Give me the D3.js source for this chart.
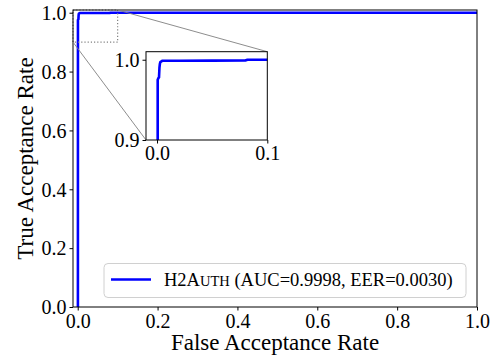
<!DOCTYPE html>
<html lang="en">
<head>
  <meta charset="UTF-8" />
  <title>ROC H2Auth</title>
  <style>
    html, body { margin: 0; padding: 0; background: #fff; }
    svg { display: block; }
    svg text { font-family: "Liberation Serif", "DejaVu Serif", serif; fill: #000; }
  </style>
</head>
<body>
<script src="https://d3js.org/d3.v7.min.js"></script>
<script>
// ROC curve points (false acceptance rate vs true acceptance rate)
const far = [0, 0.0005, 0.0006, 0.0012, 0.0018, 0.0022, 0.0026, 0.003, 0.005, 0.02, 0.05, 0.08, 0.082, 0.1, 0.2, 0.4, 0.6, 0.8, 1.0];
const tar = [0, 0, 0.975, 0.977, 0.978, 0.99, 0.995, 0.997, 0.9988, 0.9988, 0.9989, 0.999, 1.0, 1.0, 1.0, 1.0, 1.0, 1.0, 1.0];

const mainTicks = [0, 0.2, 0.4, 0.6, 0.8, 1.0];
const insetXTicks = [0, 0.1];
const insetYTicks = [0.9, 1.0];
const legendLabel = { pre: "H2A", caps: "UTH", post: " (AUC=0.9998, EER=0.0030)" };

const width = 503, height = 360;
const margin = { top: 10, right: 26, bottom: 53, left: 73 };
const tickFont = 20;

const svg = d3.select("body").append("svg")
  .attr("width", width)
  .attr("height", height);

const x = d3.scaleLinear().domain([-0.0118, 1.0]).range([margin.left, width - margin.right]);
const y = d3.scaleLinear().domain([0, 1.0092]).range([height - margin.bottom, margin.top]);

const pts = far.map((f, i) => [f, tar[i]]);

svg.append("clipPath").attr("id", "clipMain")
  .append("rect")
  .attr("x", margin.left).attr("y", margin.top)
  .attr("width", width - margin.left - margin.right)
  .attr("height", height - margin.top - margin.bottom);

// main curve
svg.append("path")
  .datum(pts)
  .attr("clip-path", "url(#clipMain)")
  .attr("fill", "none")
  .attr("stroke", "#0000ff")
  .attr("stroke-width", 2.6)
  .attr("stroke-linejoin", "round")
  .attr("d", d3.line().x(d => x(d[0])).y(d => y(d[1])));

// zoom region rectangle
const zx = [-0.0118, 0.1], zy = [0.9, 1.0092];
svg.append("rect")
  .attr("x", x(zx[0])).attr("y", y(zy[1]))
  .attr("width", x(zx[1]) - x(zx[0]))
  .attr("height", y(zy[0]) - y(zy[1]))
  .attr("fill", "none")
  .attr("stroke", "#808080")
  .attr("stroke-width", 1.2)
  .attr("stroke-dasharray", "1.2,2");

function styleAxis(g, xdir) {
  g.attr("font-family", null).attr("font-size", null);
  g.select(".domain").remove();
  g.selectAll("text").style("font-size", tickFont + "px").attr("dy", xdir ? "0.72em" : "0.34em");
  g.selectAll("line").attr("stroke", "#000");
}

// main axes
const xAxis = svg.append("g")
  .attr("transform", `translate(0,${height - margin.bottom})`)
  .call(d3.axisBottom(x).tickValues(mainTicks).tickFormat(d3.format(".1f")).tickSize(3.5).tickPadding(3));
const yAxis = svg.append("g")
  .attr("transform", `translate(${margin.left},0)`)
  .call(d3.axisLeft(y).tickValues(mainTicks).tickFormat(d3.format(".1f")).tickSize(3.5).tickPadding(3));
styleAxis(xAxis, true);
styleAxis(yAxis, false);

svg.append("rect")
  .attr("x", margin.left).attr("y", margin.top)
  .attr("width", width - margin.left - margin.right)
  .attr("height", height - margin.top - margin.bottom)
  .attr("fill", "none").attr("stroke", "#000").attr("stroke-width", 1);

svg.append("text")
  .attr("x", (margin.left + width - margin.right) / 2)
  .attr("y", 350)
  .attr("text-anchor", "middle")
  .style("font-size", "23px")
  .text("False Acceptance Rate");

svg.append("text")
  .attr("transform", `translate(33,${(margin.top + height - margin.bottom) / 2}) rotate(-90)`)
  .attr("text-anchor", "middle")
  .style("font-size", "23px")
  .text("True Acceptance Rate");

// inset
const inset = { x0: 146, x1: 267.3, y0: 51.7, y1: 140 };
const ix = d3.scaleLinear().domain([-0.01, 0.1]).range([inset.x0, inset.x1]);
const iy = d3.scaleLinear().domain([0.9, 1.01]).range([inset.y1, inset.y0]);

// connector lines
svg.append("line")
  .attr("x1", x(zx[1])).attr("y1", y(zy[1]))
  .attr("x2", inset.x1).attr("y2", inset.y0)
  .attr("stroke", "#808080").attr("stroke-width", 0.9);
svg.append("line")
  .attr("x1", x(zx[0])).attr("y1", y(zy[0]))
  .attr("x2", inset.x0).attr("y2", inset.y1)
  .attr("stroke", "#808080").attr("stroke-width", 0.9);

svg.append("rect")
  .attr("x", inset.x0).attr("y", inset.y0)
  .attr("width", inset.x1 - inset.x0).attr("height", inset.y1 - inset.y0)
  .attr("fill", "#fff");

svg.append("clipPath").attr("id", "clipInset")
  .append("rect")
  .attr("x", inset.x0).attr("y", inset.y0)
  .attr("width", inset.x1 - inset.x0).attr("height", inset.y1 - inset.y0);

svg.append("path")
  .datum(pts)
  .attr("clip-path", "url(#clipInset)")
  .attr("fill", "none")
  .attr("stroke", "#0000ff")
  .attr("stroke-width", 2.6)
  .attr("stroke-linejoin", "round")
  .attr("d", d3.line().x(d => ix(d[0])).y(d => iy(d[1])));

const ixAxis = svg.append("g")
  .attr("transform", `translate(0,${inset.y1})`)
  .call(d3.axisBottom(ix).tickValues(insetXTicks).tickFormat(d3.format(".1f")).tickSize(3.5).tickPadding(2));
const iyAxis = svg.append("g")
  .attr("transform", `translate(${inset.x0},0)`)
  .call(d3.axisLeft(iy).tickValues(insetYTicks).tickFormat(d3.format(".1f")).tickSize(3.5).tickPadding(3));
styleAxis(ixAxis, true);
styleAxis(iyAxis, false);

svg.append("rect")
  .attr("x", inset.x0).attr("y", inset.y0)
  .attr("width", inset.x1 - inset.x0).attr("height", inset.y1 - inset.y0)
  .attr("fill", "none").attr("stroke", "#000").attr("stroke-width", 1);

// legend
const lg = svg.append("g");
lg.append("rect")
  .attr("x", 104).attr("y", 263.5)
  .attr("width", 362).attr("height", 34)
  .attr("rx", 4)
  .attr("fill", "#fff").attr("fill-opacity", 0.8)
  .attr("stroke", "#d0d0d0").attr("stroke-width", 1);
lg.append("line")
  .attr("x1", 111).attr("x2", 151)
  .attr("y1", 279.5).attr("y2", 279.5)
  .attr("stroke", "#0000ff").attr("stroke-width", 2.6);
const lt = lg.append("text")
  .attr("x", 164).attr("y", 285.5)
  .style("font-size", "18.5px");
lt.append("tspan").text(legendLabel.pre);
lt.append("tspan").style("font-size", "14.5px").text(legendLabel.caps);
lt.append("tspan").text(legendLabel.post);
</script>
</body>
</html>
